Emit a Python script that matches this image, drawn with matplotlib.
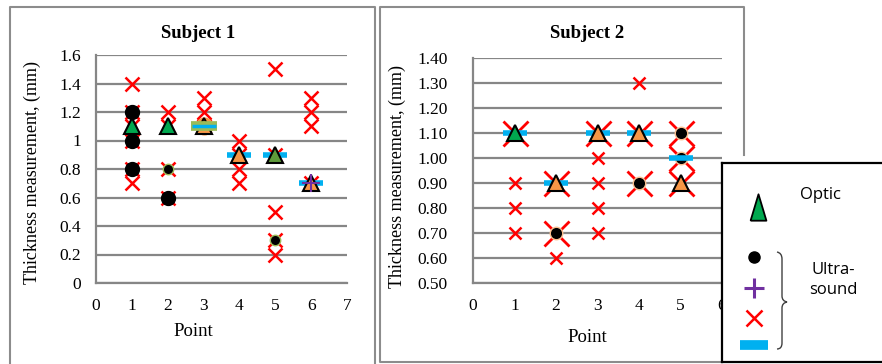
import matplotlib
matplotlib.use('Agg')
import matplotlib.pyplot as plt
from matplotlib.lines import Line2D
from matplotlib.path import Path
from matplotlib.patches import PathPatch

# Subject 1 readings
s1_cross_pts = [1, 1, 1, 1, 1, 1, 2, 2, 2, 2, 3, 3, 3, 4, 4, 4, 4, 5, 5, 5, 5, 5, 6, 6, 6, 6]
s1_cross_val = [1.4, 1.2, 1.1, 1.0, 0.8, 0.7, 1.2, 1.1, 0.8, 0.6, 1.3, 1.2, 1.1,
                1.0, 0.9, 0.8, 0.7, 1.5, 0.9, 0.5, 0.3, 0.2, 1.3, 1.2, 1.1, 0.7]
s1_dot_pts = [1, 1, 1, 2]
s1_dot_val = [1.2, 1.0, 0.8, 0.6]
s1_small_dot_pts = [2, 5]
s1_small_dot_val = [0.8, 0.3]
s1_green_tri_pts = [1, 2]
s1_green_tri_val = [1.1, 1.1]
s1_olive_tri_pts = [5]
s1_olive_tri_val = [0.9]
s1_orange_tri_pts = [3, 4, 6]
s1_orange_tri_val = [1.1, 0.9, 0.7]
s1_bar_pts = [4, 5, 6]
s1_bar_val = [0.9, 0.9, 0.7]
s1_top_bar_pts = [3]
s1_top_bar_val = [1.1]
s1_plus_pts = [6]
s1_plus_val = [0.7]
s1_yticks = [0, 0.2, 0.4, 0.6, 0.8, 1, 1.2, 1.4, 1.6]
s1_ytick_labels = ['0', '0.2', '0.4', '0.6', '0.8', '1', '1.2', '1.4', '1.6']
s1_xticks = [0, 1, 2, 3, 4, 5, 6, 7]

# Subject 2 readings
s2_small_cross_pts = [1, 1, 1, 2, 3, 3, 3, 3, 4]
s2_small_cross_val = [0.9, 0.8, 0.7, 0.6, 1.0, 0.9, 0.8, 0.7, 1.3]
s2_big_cross_pts = [1, 2, 2, 3, 4, 4, 5, 5, 5]
s2_big_cross_val = [1.1, 0.9, 0.7, 1.1, 1.1, 0.9, 1.1, 1.0, 0.9]
s2_dot_pts = [2, 4, 5, 5]
s2_dot_val = [0.7, 0.9, 1.1, 1.0]
s2_green_tri_pts = [1]
s2_green_tri_val = [1.1]
s2_orange_tri_pts = [2, 3, 4, 5]
s2_orange_tri_val = [0.9, 1.1, 1.1, 0.9]
s2_bar_pts = [1, 2, 3, 4, 5]
s2_bar_val = [1.1, 0.9, 1.1, 1.1, 1.0]
s2_yticks = [0.5, 0.6, 0.7, 0.8, 0.9, 1.0, 1.1, 1.2, 1.3, 1.4]
s2_xticks = [0, 1, 2, 3, 4, 5, 6]

W, H = 882, 364
GRID = '#868686'
RED = '#ff0000'
GREEN = '#00a84f'
ORANGE = '#f79646'
BLUE = '#00b0f0'
PURPLE = '#7030a0'

plt.rcParams['font.family'] = ['Liberation Serif', 'DejaVu Serif']

fig = plt.figure(figsize=(W / 100, H / 100), dpi=100)


def fx(x):
    return x / W


def fy(y):
    return 1 - y / H


def style_axes(ax, ypad):
    for s in ['top', 'right']:
        ax.spines[s].set_visible(False)
    for s in ['left', 'bottom']:
        ax.spines[s].set_color(GRID)
        ax.spines[s].set_linewidth(1.6)
    ax.yaxis.grid(True, color=GRID, linewidth=1.6)
    ax.set_axisbelow(True)
    ax.tick_params(axis='x', length=0, pad=11, labelsize=12.5)
    ax.tick_params(axis='y', length=0, pad=ypad, labelsize=12.5)


# panel frames
frame = dict(color='#8c8c8c', linewidth=1.5, zorder=-1, transform=fig.transFigure)
fig.add_artist(Line2D([fx(10), fx(10), fx(375), fx(375)], [fy(366), fy(7), fy(7), fy(366)], **frame))
fig.add_artist(Line2D([fx(722), fx(380), fx(380), fx(744), fx(744)],
                      [fy(362), fy(362), fy(7), fy(7), fy(155)], **frame))

# Subject 1
ax1 = fig.add_axes([fx(96), fy(283), fx(347) - fx(96), fy(55) - fy(283)])
style_axes(ax1, 11)
ax1.plot(s1_cross_pts, s1_cross_val, 'x', color=RED, ms=10, mew=1.8, zorder=2)
ax1.plot(s1_dot_pts, s1_dot_val, 'o', color='black', ms=10, zorder=3)
ax1.plot(s1_small_dot_pts, s1_small_dot_val, 'o', mfc='black', mec='#9bbb59', ms=7.5, mew=1, zorder=3)
ax1.plot(s1_top_bar_pts, s1_top_bar_val, 'o', color=ORANGE, ms=12, zorder=3)
ax1.plot(s1_bar_pts, s1_bar_val, '_', color=BLUE, ms=17, mew=4, zorder=3)
ax1.plot(s1_green_tri_pts, s1_green_tri_val, '^', mfc=GREEN, mec='black', ms=11, mew=1.5, zorder=4)
ax1.plot(s1_olive_tri_pts, s1_olive_tri_val, '^', mfc='#5e9a3a', mec='black', ms=11, mew=1.5, zorder=4)
ax1.plot(s1_orange_tri_pts, s1_orange_tri_val, '^', mfc=ORANGE, mec='black', ms=11, mew=1.5, zorder=4)
ax1.plot(s1_top_bar_pts, s1_top_bar_val, '_', color='#9bbb59', ms=19, mew=7, zorder=5)
ax1.plot(s1_top_bar_pts, s1_top_bar_val, '_', color=BLUE, ms=17, mew=2.5, zorder=6)
ax1.plot(s1_plus_pts, s1_plus_val, '+', color=PURPLE, ms=13, mew=1.5, zorder=5)
ax1.set_xlim(0, 7)
ax1.set_ylim(0, 1.6)
ax1.set_xticks(s1_xticks)
ax1.set_yticks(s1_yticks)
ax1.set_yticklabels(s1_ytick_labels)

# Subject 2
ax2 = fig.add_axes([fx(473), fy(283), fx(722) - fx(473), fy(58) - fy(283)])
style_axes(ax2, 18)
ax2.plot(s2_small_cross_pts, s2_small_cross_val, 'x', color=RED, ms=8, mew=1.8, zorder=2)
ax2.plot(s2_big_cross_pts, s2_big_cross_val, 'x', color=RED, ms=18, mew=2, zorder=2)
ax2.plot(s2_dot_pts, s2_dot_val, 'o', mfc='black', mec='#fac090', ms=9, mew=1, zorder=3)
ax2.plot(s2_bar_pts, s2_bar_val, '_', color=BLUE, ms=17, mew=4, zorder=3)
ax2.plot(s2_green_tri_pts, s2_green_tri_val, '^', mfc=GREEN, mec='black', ms=11, mew=1.5, zorder=4)
ax2.plot(s2_orange_tri_pts, s2_orange_tri_val, '^', mfc=ORANGE, mec='black', ms=11, mew=1.5, zorder=4)
ax2.set_xlim(0, 6)
ax2.set_ylim(0.5, 1.4)
ax2.set_xticks(s2_xticks)
ax2.set_yticks(s2_yticks)
ax2.set_yticklabels([f'{v:.2f}' for v in s2_yticks])

# titles and axis labels
fig.text(fx(198), fy(33), 'Subject 1', ha='center', va='center', fontsize=13.5, fontweight='bold')
fig.text(fx(587), fy(33), 'Subject 2', ha='center', va='center', fontsize=13.5, fontweight='bold')
fig.text(fx(32), fy(172), 'Thickness measurement, (mm)', rotation=90, ha='center', va='center', fontsize=13)
fig.text(fx(397), fy(176), 'Thickness measurement, (mm)', rotation=90, ha='center', va='center', fontsize=13)
fig.text(fx(193), fy(332), 'Point', ha='center', va='center', fontsize=13.5)
fig.text(fx(587), fy(337), 'Point', ha='center', va='center', fontsize=13.5)

# hand-made legend box
lg = fig.add_axes([fx(722), fy(362), fx(200), 199 / H], zorder=10)
lg.set_xlim(722, 922)
lg.set_ylim(362, 163)
lg.set_xticks([])
lg.set_yticks([])
for s in lg.spines.values():
    s.set_color('black')
    s.set_linewidth(1.6)
tall_tri = [(-0.3, -0.5), (0.3, -0.5), (0, 0.5), (-0.3, -0.5)]
lg.plot([758], [207], marker=tall_tri, mfc=GREEN, mec='black', ms=19, mew=1.3)
lg.plot([754], [257], 'o', color='black', ms=8)
lg.plot([754], [288], '+', color=PURPLE, ms=14, mew=2.2)
lg.plot([754], [318], 'x', color=RED, ms=12, mew=1.8)
lg.plot([754], [345], '_', color=BLUE, ms=20, mew=7)
brace = Path([(777, 252), (782, 253), (782, 259), (782, 296), (782, 301), (787, 302),
              (782, 303), (782, 308), (782, 343), (782, 349), (777, 349)],
             [Path.MOVETO, Path.CURVE3, Path.CURVE3, Path.LINETO, Path.CURVE3, Path.CURVE3,
              Path.CURVE3, Path.CURVE3, Path.LINETO, Path.CURVE3, Path.CURVE3])
lg.add_patch(PathPatch(brace, fill=False, edgecolor='#404040', linewidth=1))
lg.text(800, 195, 'Optic', ha='left', va='center', fontsize=12, family=['Open Sans', 'DejaVu Sans'])
lg.text(833, 280, 'Ultra-\nsound', ha='center', va='center', fontsize=12, linespacing=1.35,
        family=['Open Sans', 'DejaVu Sans'])

fig.savefig('out.png', dpi=100)
